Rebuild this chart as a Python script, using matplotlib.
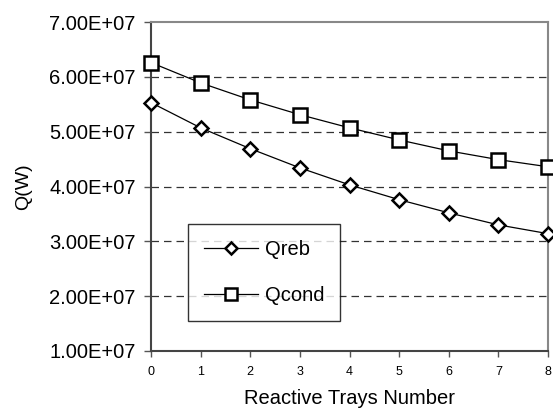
import matplotlib
matplotlib.use("Agg")
import matplotlib.pyplot as plt
from matplotlib.ticker import FuncFormatter

plt.rcParams['font.family'] = ['Liberation Sans', 'DejaVu Sans']

trays = [0, 1, 2, 3, 4, 5, 6, 7, 8]
qreb = [5.53e7, 5.07e7, 4.69e7, 4.34e7, 4.03e7, 3.76e7, 3.52e7, 3.30e7, 3.14e7]
qcond = [6.26e7, 5.89e7, 5.58e7, 5.31e7, 5.07e7, 4.85e7, 4.65e7, 4.49e7, 4.36e7]
yticks = [1e7, 2e7, 3e7, 4e7, 5e7, 6e7, 7e7]

fig = plt.figure(figsize=(5.53, 4.13), dpi=100)
ax = fig.add_axes([151/553, 1-351/413, (548-151)/553, (351-22)/413])

ax.plot(trays, qreb, color='black', lw=0.9, marker='D', markersize=7,
        markerfacecolor='white', markeredgecolor='black', markeredgewidth=1.8,
        label='Qreb', clip_on=False, zorder=3)
ax.plot(trays, qcond, color='black', lw=0.9, marker='s', markersize=10,
        markerfacecolor='white', markeredgecolor='black', markeredgewidth=1.8,
        label='Qcond', clip_on=False, zorder=3)

ax.set_xlim(0, 8)
ax.set_ylim(1e7, 7e7)
ax.set_xticks(trays)
ax.set_yticks(yticks)
ax.yaxis.set_major_formatter(FuncFormatter(lambda v, p: f"{v:.2E}"))
for y in yticks[1:-1]:
    ax.axhline(y, color='#333333', lw=0.9, dashes=(6, 4), zorder=1)

ax.tick_params(axis='y', labelsize=14.5, direction='out', length=5, width=1, color='#555555', pad=6)
ax.tick_params(axis='x', labelsize=9, direction='out', length=4, width=1, color='#555555', pad=7)

ax.spines['left'].set_color('#444444')
ax.spines['left'].set_linewidth(1.5)
ax.spines['bottom'].set_color('#444444')
ax.spines['bottom'].set_linewidth(1.5)
ax.spines['top'].set_color('#888888')
ax.spines['top'].set_linewidth(1.5)
ax.spines['right'].set_color('#888888')
ax.spines['right'].set_linewidth(1.5)

ax.set_xlabel('Reactive Trays Number', fontsize=14.5, labelpad=8)
ax.set_ylabel('Q(W)', fontsize=14, labelpad=12)

leg = ax.legend(loc='upper left', bbox_to_anchor=((188-151)/397, (351-224)/329),
                frameon=True, fancybox=False, edgecolor='black', fontsize=14.5,
                handlelength=2.7, handletextpad=0.3, borderpad=0.8,
                labelspacing=1.35, borderaxespad=0, markerscale=0.9)
leg.get_frame().set_linewidth(1.0)

fig.savefig('out.png', dpi=100)
